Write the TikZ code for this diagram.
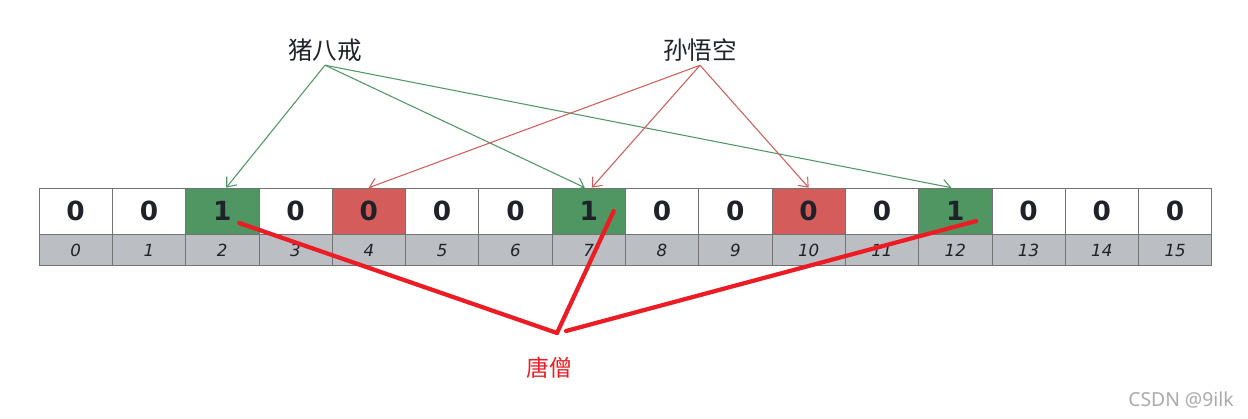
\documentclass[tikz,border=0pt]{standalone}
\usepackage{fontspec}
\usepackage{xcolor}
\usepackage{tikz}
\usetikzlibrary{arrows.meta,positioning}
\setmainfont{Noto Sans}
\newfontfamily\digitos{DejaVu Sans}
\newfontfamily\cjk{Noto Sans CJK SC}
\definecolor{verdebit}{RGB}{80,150,98}
\definecolor{vermelhobit}{RGB}{212,92,90}
\definecolor{cinzaind}{RGB}{187,190,194}
\definecolor{textoescuro}{RGB}{31,35,41}
\definecolor{vermelhotang}{RGB}{237,28,36}
\definecolor{cinzamarca}{RGB}{170,170,170}
\tikzset{
  celula/.style={rectangle,draw=black!55,minimum width=1.466cm,minimum height=0.92cm,
    inner sep=0pt,font=\digitos\fontsize{15}{15}\selectfont\bfseries,text=textoescuro},
  indice/.style={rectangle,draw=black!55,fill=cinzaind,minimum width=1.466cm,
    minimum height=0.62cm,inner sep=0pt,font=\digitos\fontsize{9.5}{9.5}\selectfont\itshape,text=textoescuro},
  rotulo/.style={font=\cjk\fontsize{14}{14}\selectfont,text=textoescuro,inner sep=2pt},
  setaverde/.style={-{Straight Barb[length=1.6mm,width=2.6mm]},verdebit,line width=0.6pt},
  setavermelha/.style={-{Straight Barb[length=1.6mm,width=2.6mm]},vermelhobit,line width=0.6pt},
  linhatang/.style={vermelhotang,line width=2.4pt,line cap=round}
}

\begin{document}
\begin{tikzpicture}[x=0.02cm,y=-0.02cm]
\useasboundingbox (0,0) rectangle (1248,419);
% bit array with its indices
\foreach \i/\v/\cor in {0/0/white,1/0/white,2/1/verdebit,3/0/white,4/0/vermelhobit,
    5/0/white,6/0/white,7/1/verdebit,8/0/white,9/0/white,10/0/vermelhobit,
    11/0/white,12/1/verdebit,13/0/white,14/0/white,15/0/white}{
  \pgfmathsetmacro\cx{39+73.3*(\i+0.5)}
  \node[celula,fill=\cor] (c\i) at (\cx,211) {\v};
  \node[indice,below=0pt of c\i] (n\i) {\i};
}
% hash functions
\node[rotulo] (zhu) at (325,50) {猪八戒};
\node[rotulo] (sun) at (700,50) {孙悟空};
\draw[setaverde] (zhu.south) -- ([xshift=0.08cm]c2.north);
\draw[setaverde] (zhu.south) -- ([xshift=-0.08cm]c7.north);
\draw[setaverde] (zhu.south) -- ([xshift=-0.08cm]c12.north);
\draw[setavermelha] (sun.south) -- (c4.north);
\draw[setavermelha] (sun.south) -- ([xshift=0.06cm]c7.north);
\draw[setavermelha] (sun.south) -- (c10.north);
% query
\coordinate (tang) at (557,333);
\coordinate (tangb) at (566,331);
\node[font=\cjk\fontsize{13}{13}\selectfont,text=vermelhotang] (tangrot) at (549,368) {唐僧};
\draw[linhatang] ([xshift=0.34cm,yshift=-0.24cm]c2.center) -- (tang);
\draw[linhatang] ([xshift=0.5cm]c7.center) -- (tang);
\draw[linhatang] (tangb) -- ([xshift=0.42cm,yshift=-0.2cm]c12.center);
\node[font=\fontsize{11}{11}\selectfont,text=cinzamarca] (marca) at (1181,400) {CSDN @9ilk};
\end{tikzpicture}
\end{document}
